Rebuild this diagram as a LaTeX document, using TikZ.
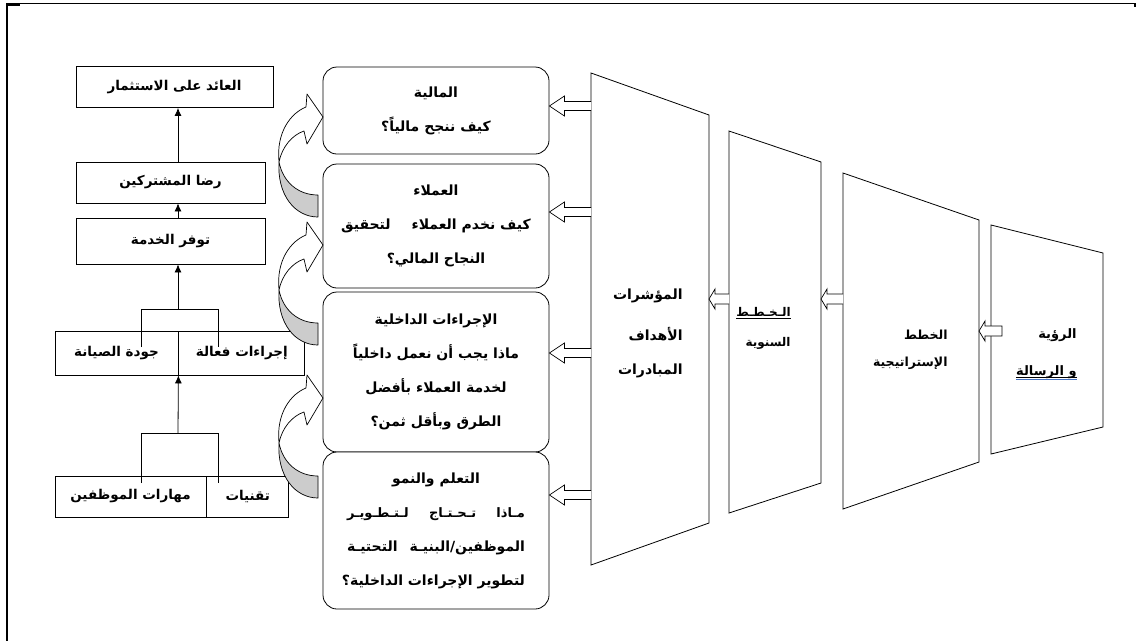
\documentclass[tikz,border=0pt]{standalone}
\usepackage{fontspec}
\usetikzlibrary{calc,arrows.meta}
\newfontfamily\arabicfont[Script=Arabic]{DejaVu Sans}
\TeXXeTstate=1
\definecolor{ulblue}{RGB}{68,114,196}
\newcommand\ar[1]{\beginR #1\endR}
\newcommand\harrow[6]{% style, tail, tip, head length, half shaft, half head
  \draw[#1] (#2) ++(0,#5) -- ($(#3)+(#4,#5)$) -- ($(#3)+(#4,#6)$) -- (#3)
    -- ($(#3)+(#4,-#6)$) -- ($(#3)+(#4,-#5)$) -- ($(#2)+(0,-#5)$);}
\newcommand\curvedarrow[1]{%
  \begin{scope}[shift={(#1)}]
    \draw[curvsty, fill=white] (-44,45) .. controls (-47,15) and (-32,-4) .. (-17,-10)
      -- (-16,-23) -- (0,0) -- (-16,27) -- (-19,14)
      .. controls (-31,18) and (-41,30) .. cycle;
    \draw[curvsty, fill=gray!40] (-44,45) .. controls (-46,78) and (-28,100) .. (-5,100)
      -- (-5,78) .. controls (-25,78) and (-40,65) .. cycle;
  \end{scope}}
\begin{document}
\begin{tikzpicture}[x=1pt,y=-1pt,line width=0.8pt,
  btxt/.style={font=\arabicfont\bfseries\fontsize{14}{34}\selectfont},
  ltxt/.style={font=\arabicfont\bfseries\fontsize{13.5}{20}\selectfont},
  rbox/.style={draw, rounded corners=14pt, fill=white, minimum width=226pt,
     align=center, inner sep=0pt, btxt},
  lbox/.style={draw, fill=white, inner sep=0pt, ltxt},
  ttxt/.style={font=\arabicfont\bfseries\fontsize{14}{20}\selectfont, inner sep=0pt, anchor=east},
  stxt/.style={font=\arabicfont\bfseries\fontsize{12}{20}\selectfont, inner sep=0pt, anchor=east},
  ptxt/.style={font=\arabicfont\bfseries\fontsize{12.5}{20}\selectfont, inner sep=0pt, anchor=east},
  vtxt/.style={font=\arabicfont\bfseries\fontsize{13}{20}\selectfont, inner sep=0pt, anchor=east},
  arr/.style={-{Latex[length=8pt,width=7pt]}},
  harr/.style={draw, fill=white, line width=0.7pt, line join=miter},
  curvsty/.style={line width=0.7pt, line join=round}]
\useasboundingbox (0,0) rectangle (1138,641);
% frame
\draw[line width=1pt] (6,3.5) -- (1136,3.5);
\draw[line width=2pt] (6.5,3) -- (6.5,641);
\draw[line width=2pt] (6,4.5) -- (20,4.5);
\draw[line width=1.5pt] (1135,3) -- (1135,7);

% trapezoids
\draw[fill=white] (591,73) -- (709,115) -- (709,523) -- (591,565) -- cycle;
\draw[fill=white] (729,131) -- (821,162) -- (821,483) -- (729,513) -- cycle;
\draw[fill=white] (843,173) -- (979,220) -- (979,462) -- (843,509) -- cycle;
\draw[fill=white] (991,225) -- (1103,253) -- (1103,427) -- (991,454) -- cycle;

\node[ttxt] (m1) at (683,296) {\ar{المؤشرات}};
\node[ttxt] (m2) at (683,334) {\ar{الأهداف}};
\node[ttxt] (m3) at (683,371) {\ar{المبادرات}};
\node[stxt] (s1) at (791,312) {\ar{الـخـطـط}};
\node[stxt] (s2) at (791,343) {\ar{السنوية}};
\draw[line width=0.6pt] ([yshift=-2pt]s1.base west) -- ([yshift=-2pt]s1.base east);
\node[ptxt] (p1) at (948,335) {\ar{الخطط}};
\node[ptxt] (p2) at (948,363) {\ar{الإستراتيجية}};
\node[vtxt] (v1) at (1077,335) {\ar{الرؤية}};
\node[vtxt] (v2) at (1077,372) {\ar{و الرسالة}};
\draw[line width=0.6pt] ([yshift=-2pt]v2.base west) -- ([yshift=-2pt]v2.base east);
\draw[line width=1.2pt, ulblue] ([yshift=-4.5pt]v2.base west) -- ([yshift=-4.5pt]v2.base east);

% arrows between trapezoids
\coordinate (q21) at (729,299); \coordinate (r21) at (709,299);
\coordinate (q32) at (843,299); \coordinate (r32) at (821,299);
\harrow{harr}{q21}{r21}{6}{5}{10}
\harrow{harr}{q32}{r32}{6}{5}{10}
\coordinate (r43) at (979,331);
\draw[harr] (1002,326) -- (985,326) -- (985,321) -- (r43) -- (985,341) -- (985,336) -- (1002,336) -- cycle;

% rounded boxes
\node[rbox, minimum height=87pt] (b1) at (436,110.5) {\ar{المالية}\\\ar{كيف ننجح مالياً؟}};
\node[rbox, minimum height=124pt] (b2) at (436,226) {\ar{العملاء}\\\ar{كيف نخدم العملاء\hspace{1.5em}لتحقيق}\\\ar{النجاح المالي؟}};
\node[rbox, minimum height=160pt] (b3) at (436,372) {\ar{الإجراءات الداخلية}\\\ar{ماذا يجب أن نعمل داخلياً}\\\ar{لخدمة العملاء بأفضل}\\\ar{الطرق وبأقل ثمن؟}};
\node[rbox, minimum height=157pt] (b4) at (436,530.5) {\ar{التعلم والنمو}\\
  \fontsize{13}{34}\selectfont
  \makebox[178pt][s]{\ar{مـاذا تـحـتـاج لـتـطـويـر}}\\
  \makebox[178pt][s]{\ar{الموظفين/البنيـة التحتيـة}}\\
  \makebox[178pt][r]{\ar{لتطوير الإجراءات الداخلية؟}}};

% arrows from indicators to boxes
\foreach \i/\y in {1/106,2/212,3/353,4/495}{
  \coordinate (k\i) at (591,\y);
  \coordinate (e\i) at (b\i.east |- k\i);
}
\harrow{harr}{k1}{e1}{15}{4.5}{10}
\harrow{harr}{k2}{e2}{15}{4.5}{10}
\harrow{harr}{k3}{e3}{15}{4.5}{10}
\harrow{harr}{k4}{e4}{15}{4.5}{10}

% left column
\node[lbox, minimum width=197pt, minimum height=41pt] (L1) at (174.5,87) {\ar{العائد على الاستثمار}};
\node[lbox, minimum width=189pt, minimum height=41pt] (L2) at (170.5,182.5) {\ar{رضا المشتركين}};
\node[lbox, minimum width=189pt, minimum height=46pt] (L3) at (170.5,241) {\ar{توفر الخدمة}};
\node[lbox, minimum width=123pt, minimum height=44pt] (L4a) at (116.5,353) {\ar{جودة الصيانة}};
\node[lbox, minimum width=126pt, minimum height=44pt, anchor=west] (L4b) at (L4a.east) {\ar{إجراءات فعالة}};
\node[lbox, minimum width=151pt, minimum height=41pt] (L5a) at (130.5,496.5) {\ar{مهارات الموظفين}};
\node[lbox, minimum width=82pt, minimum height=41pt, anchor=west] (L5b) at (L5a.east) {\ar{تقنيات}};

\coordinate (j1) at (178,309);
\coordinate (j2) at (178,433);
\draw[arr] (L2.north -| j1) -- (L1.south -| j1);
\draw[arr] (L3.north -| j1) -- (L2.south -| j1);
\draw[arr] (j1) -- (L3.south -| j1);
\draw (141,347) -- (141,309) -- (218,309) -- (218,347);
\draw[arr] (j2) -- (L4a.south east);
\draw (141,483) -- (141,433) -- (218,433) -- (218,483);

% curved arrows
\coordinate (c1) at (323,117);
\coordinate (c2) at (323,245);
\coordinate (c3) at (323,398);
\curvedarrow{c1}
\curvedarrow{c2}
\curvedarrow{c3}
\end{tikzpicture}
\end{document}
